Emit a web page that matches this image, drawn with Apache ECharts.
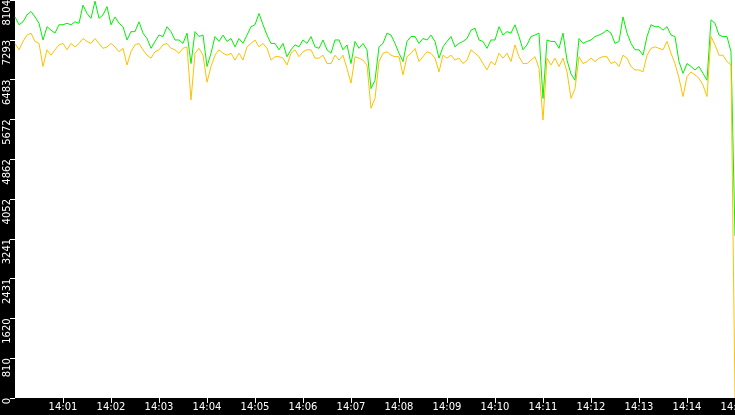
<!DOCTYPE html>
<html>
<head>
<meta charset="utf-8">
<script src="https://cdn.jsdelivr.net/npm/echarts@6/dist/echarts.min.js"></script>
<style>
html, body { margin: 0; padding: 0; background: #000; }
#main { width: 735px; height: 415px; }
</style>
</head>
<body>
<div id="main"></div>
<script>
// samples every 5 s starting 14:00:00
var stepSec = 5;
var yMax = 8104;
var yStep = 810.4;

var green = [
    7760, 7600, 7660, 7800, 7870, 7760, 7630, 7290, 7560, 7490, 7430, 7600, 7600, 7630, 7600, 7660, 7630, 8000, 7830, 7730, 8080, 7730, 7800, 7970, 7600, 7760, 7630, 7560, 7290, 7460,
    7460, 7660, 7430, 7320, 7120, 7260, 7390, 7360, 7560, 7460, 7290, 7290, 7220, 7430, 6810, 7460, 7360, 7390, 6750, 7020, 7360, 7260, 7390, 7260, 7320, 7150, 7320, 7220, 7390, 7560,
    7600, 7830, 7600, 7390, 7220, 7220, 7090, 7220, 6950, 7090, 7190, 7150, 7290, 7220, 7360, 7150, 7120, 7290, 7090, 7020, 7290, 7290, 7090, 7190, 6810, 7260, 7120, 7220, 7090, 6300,
    6470, 7150, 7220, 7430, 7390, 7220, 7020, 6850, 7260, 7360, 7360, 7220, 7320, 7290, 7390, 7260, 6920, 7150, 7260, 7360, 7150, 7220, 7260, 7320, 7490, 7530, 7290, 7260, 7120, 7290,
    7290, 7560, 7390, 7460, 7430, 7600, 7360, 7090, 7190, 7360, 7390, 7430, 6100, 7290, 7260, 7260, 7120, 7430, 6880, 6600, 6470, 7320, 7220, 7260, 7290, 7360, 7390, 7430, 7490, 7430,
    7220, 7260, 7760, 7430, 7220, 7090, 7090, 6980, 7360, 7600, 7560, 7560, 7490, 7560, 7390, 7360, 6850, 6610, 6810, 6750, 6680, 6750, 6610, 6470, 7700, 7630, 7390, 7360, 7360, 7050,
    3300
];
var orange = [
    7220, 7090, 7260, 7390, 7430, 7260, 7220, 6750, 7090, 6980, 7090, 7190, 7220, 7090, 7220, 7150, 7220, 7320, 7260, 7220, 7320, 7220, 7120, 7150, 7220, 7150, 7050, 7120, 6780, 7050,
    7190, 7220, 7090, 6980, 6920, 7050, 7090, 7190, 7220, 7120, 7090, 7020, 7120, 7150, 6070, 7020, 7120, 6980, 6430, 6750, 6980, 7090, 7020, 6980, 7020, 6880, 7020, 6880, 7150, 7220,
    7290, 7150, 7220, 7120, 6880, 6950, 6950, 6920, 6780, 7020, 7090, 6950, 7050, 7090, 7090, 6920, 6920, 6980, 6810, 6810, 6980, 6880, 6980, 6710, 6410, 6950, 6920, 6880, 6780, 5900,
    6100, 6850, 7020, 7050, 6980, 6950, 6950, 6580, 6950, 7020, 7120, 6850, 6950, 7050, 7020, 6920, 6640, 6980, 6920, 6980, 6880, 6920, 6810, 6880, 7090, 7020, 6950, 6810, 6680, 6850,
    6780, 7020, 6920, 7020, 6850, 7190, 6950, 6810, 6810, 6880, 6950, 6710, 5660, 6920, 6780, 6920, 6750, 6920, 6640, 6100, 6300, 6950, 6810, 6850, 6920, 6850, 6920, 6950, 6950, 6810,
    6850, 6750, 6980, 6920, 6750, 6680, 6680, 6640, 6980, 7120, 7150, 7120, 7090, 7260, 7020, 6810, 6510, 6140, 6540, 6640, 6580, 6510, 6370, 6140, 7360, 7190, 6980, 6980, 6850, 6780,
    0
];

function pairs(arr) {
    var out = [];
    for (var i = 0; i < arr.length; i++) {
        out.push([i * stepSec, arr[i]]);
    }
    return out;
}

function minuteLabel(v) {
    var m = Math.round(v / 60);
    return '14:' + (m < 10 ? '0' + m : m);
}

var myChart = echarts.init(document.getElementById('main'));
var option = {
    animation: false,
    backgroundColor: '#000',
    grid: {
        left: 15,
        right: 0,
        top: 0,
        bottom: 17,
        containLabel: false,
        outerBoundsMode: 'none',
        show: true,
        backgroundColor: '#fff',
        borderWidth: 0
    },
    xAxis: {
        type: 'value',
        min: 0,
        max: 900,
        interval: 60,
        axisLine: { show: false },
        axisTick: { show: true, length: 5, lineStyle: { color: '#fff', width: 1 } },
        splitLine: { show: false },
        axisLabel: {
            color: '#fff',
            fontFamily: 'DejaVu Sans',
            fontSize: 10,
            margin: 4,
            showMinLabel: false,
            showMaxLabel: true,
            formatter: minuteLabel
        }
    },
    yAxis: {
        type: 'value',
        min: 0,
        max: yMax,
        interval: yStep,
        axisLine: { show: false },
        axisTick: { show: true, length: 5, lineStyle: { color: '#fff', width: 1 } },
        splitLine: { show: false },
        axisLabel: {
            color: '#fff',
            fontFamily: 'DejaVu Sans',
            fontSize: 10,
            rotate: 90,
            align: 'right',
            verticalAlign: 'bottom',
            margin: 3,
            formatter: function(v) {
                return String(Math.floor(v + 0.001));
            }
        }
    },
    series: [{
        name: 'green',
        type: 'line',
        showSymbol: false,
        data: pairs(green),
        lineStyle: { color: '#00f000', width: 1 },
        itemStyle: { color: '#00f000' }
    }, {
        name: 'orange',
        type: 'line',
        showSymbol: false,
        data: pairs(orange),
        lineStyle: { color: '#ffc000', width: 1 },
        itemStyle: { color: '#ffc000' }
    }]
};
myChart.setOption(option);
</script>
</body>
</html>
